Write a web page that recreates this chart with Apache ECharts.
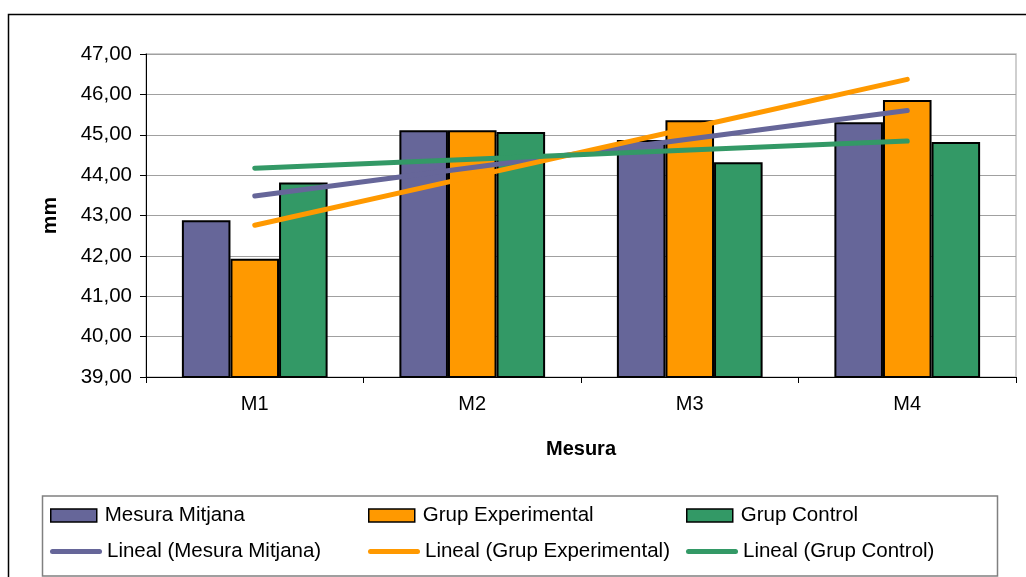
<!DOCTYPE html>
<html>
<head>
<meta charset="utf-8">
<script src="https://cdn.jsdelivr.net/npm/echarts@6/dist/echarts.min.js"></script>
<style>
  html, body { margin: 0; padding: 0; background: #fff; }
  #chart { width: 1026px; height: 577px; }
</style>
</head>
<body>
<div id="chart"></div>
<script>
// Measurements (mm) per session
const categories = ['M1', 'M2', 'M3', 'M4'];
const mesuraMitjana = [42.88, 45.11, 44.87, 45.31];
const grupExperimental = [41.93, 45.11, 45.36, 45.86];
const grupControl = [43.82, 45.07, 44.32, 44.82];

const seriesNames = ['Mesura Mitjana', 'Grup Experimental', 'Grup Control'];
const trendNames = ['Lineal (Mesura Mitjana)', 'Lineal (Grup Experimental)', 'Lineal (Grup Control)'];
const colors = ['#666699', '#FF9900', '#339966'];

// Least-squares linear trend evaluated at each category position (x = 1..n)
function linearTrend(values) {
  const n = values.length;
  const xs = values.map((_, i) => i + 1);
  const mx = xs.reduce((a, b) => a + b, 0) / n;
  const my = values.reduce((a, b) => a + b, 0) / n;
  let num = 0, den = 0;
  for (let i = 0; i < n; i++) {
    num += (xs[i] - mx) * (values[i] - my);
    den += (xs[i] - mx) * (xs[i] - mx);
  }
  const slope = num / den;
  return xs.map(x => +(my + slope * (x - mx)).toFixed(4));
}

const font = 'Liberation Sans, Arial, sans-serif';
const allBars = [mesuraMitjana, grupExperimental, grupControl];

const barSeries = allBars.map((vals, i) => ({
  name: seriesNames[i],
  type: 'bar',
  data: vals,
  barGap: '0%',
  barCategoryGap: '33%',
  itemStyle: { color: colors[i], borderColor: '#000', borderWidth: 2 },
  z: 2
}));

const lineSeries = allBars.map((vals, i) => ({
  name: trendNames[i],
  type: 'line',
  data: linearTrend(vals),
  symbol: 'none',
  lineStyle: { color: colors[i], width: 5, cap: 'round' },
  itemStyle: { color: colors[i] },
  z: 3 + i
}));

const capsule = 'path://M2.5,0 H49.5 A2.5,2.5 0 0 1 49.5,5 H2.5 A2.5,2.5 0 0 1 2.5,0 Z';
const legendCols = [50, 368, 686];
const legendRows = [505, 541];

const legends = [];
seriesNames.forEach((name, i) => {
  legends.push({
    data: [name], left: legendCols[i], top: legendRows[0], padding: 0,
    itemWidth: 46, itemHeight: 13, itemGap: 0, selectedMode: false,
    icon: 'rect',
    itemStyle: { borderColor: '#000', borderWidth: 1.5 },
    textStyle: { fontFamily: font, fontSize: 20.5, color: '#000', lineHeight: 20, padding: [0, 0, 0, 3] }
  });
});
trendNames.forEach((name, i) => {
  legends.push({
    data: [name], left: legendCols[i], top: legendRows[1], padding: 0,
    itemWidth: 52, itemHeight: 5, itemGap: 0, selectedMode: false,
    icon: capsule,
    textStyle: { fontFamily: font, fontSize: 20.5, color: '#000', lineHeight: 20, padding: [0, 0, 0, 0] }
  });
});

const chart = echarts.init(document.getElementById('chart'), null, { renderer: 'canvas' });
chart.setOption({
  animation: false,
  backgroundColor: '#fff',
  graphic: [
    { type: 'rect', shape: { x: 8.5, y: 14.5, width: 1100, height: 700 },
      style: { fill: null, stroke: '#000', lineWidth: 1.5 }, silent: true, z: -10 },
    { type: 'rect', shape: { x: 42.5, y: 496, width: 955, height: 80 },
      style: { fill: '#fff', stroke: '#808080', lineWidth: 1.5 }, silent: true, z: -5 }
  ],
  grid: {
    left: 146, right: 10, top: 54, bottom: 200,
    show: true, borderColor: '#c0c0c0', borderWidth: 1.5, backgroundColor: '#fff'
  },
  legend: legends,
  xAxis: {
    type: 'category',
    data: categories,
    name: 'Mesura',
    nameLocation: 'middle',
    nameGap: 62,
    nameTextStyle: { fontFamily: font, fontSize: 20, fontWeight: 'bold', color: '#000' },
    axisLine: { lineStyle: { color: '#000', width: 1 } },
    axisTick: { show: true, length: 6, lineStyle: { color: '#000' } },
    axisLabel: { fontFamily: font, fontSize: 20, color: '#000', margin: 17 },
    splitLine: { show: false }
  },
  yAxis: {
    type: 'value',
    min: 39, max: 47, interval: 1,
    name: 'mm',
    nameLocation: 'middle',
    nameGap: 85,
    nameRotate: 90,
    nameTextStyle: { fontFamily: font, fontSize: 21, fontWeight: 'bold', color: '#000' },
    axisLine: { show: true, lineStyle: { color: '#000', width: 1 } },
    axisTick: { show: true, length: 6, lineStyle: { color: '#000' } },
    axisLabel: {
      fontFamily: font, fontSize: 20.5, color: '#000', margin: 14,
      formatter: v => v.toFixed(2).replace('.', ',')
    },
    splitLine: { show: true, lineStyle: { color: '#a0a0a0', width: 1 } }
  },
  series: barSeries.concat(lineSeries)
});
</script>
</body>
</html>
